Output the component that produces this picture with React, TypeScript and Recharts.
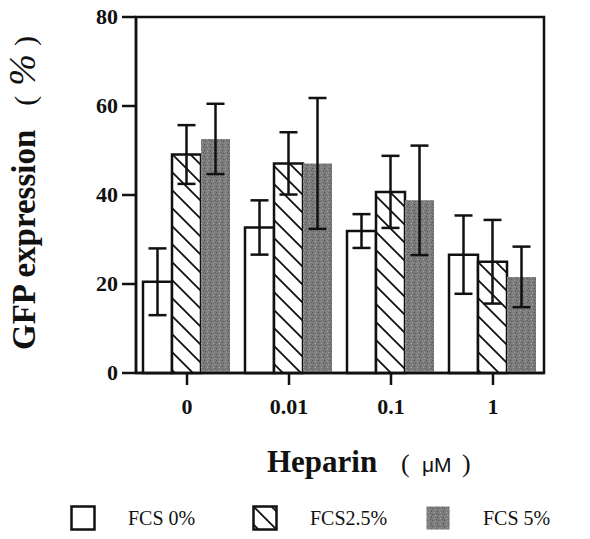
import React from 'react';
import { BarChart, Bar, XAxis, YAxis, ErrorBar, Legend, ReferenceArea } from 'recharts';

const doses = ['0', '0.01', '0.1', '1'];
const fcs0 = [20.5, 32.7, 31.9, 26.6];
const fcs0Err = [7.5, 6.1, 3.8, 8.8];
const fcs25 = [49.1, 47.1, 40.7, 25.0];
const fcs25Err = [6.6, 7.0, 8.1, 9.4];
const fcs5 = [52.6, 47.1, 38.8, 21.6];
const fcs5Err = [7.9, 14.7, 12.3, 6.8];
const yTicks = [0, 20, 40, 60, 80];

const data = doses.map((dose, i) => ({
  dose,
  fcs0: fcs0[i],
  fcs0Err: fcs0Err[i],
  fcs25: fcs25[i],
  fcs25Err: fcs25Err[i],
  fcs5: fcs5[i],
  fcs5Err: fcs5Err[i],
}));

const serif = 'Liberation Serif';
const ink = '#111';

const legendItems = [
  { label: 'FCS 0%', fill: '#ffffff', left: 70 },
  { label: 'FCS2.5%', fill: 'url(#hatch)', left: 252 },
  { label: 'FCS 5%', fill: 'url(#grain)', left: 425 },
];

// Legend sits in its own absolute box so it doesn't shrink the plot
const renderLegend = () => (
  <div style={{ position: 'relative', width: 590, height: 30 }}>
    {legendItems.map((item) => (
      <div key={item.label} style={{ position: 'absolute', left: item.left, top: 0, display: 'flex', alignItems: 'center' }}>
        <svg width={26} height={26}>
          <rect x={1.5} y={1.5} width={23} height={23} fill={item.fill} stroke={item.fill === 'url(#grain)' ? 'none' : ink} strokeWidth={2.5} />
        </svg>
        <span style={{ marginLeft: 32, fontFamily: serif, fontSize: 20, color: ink }}>{item.label}</span>
      </div>
    ))}
  </div>
);

const XTick = (props: any) => {
  const { x, y, payload } = props;
  return (
    <text x={x} y={y + 15} textAnchor="middle" fontFamily={serif} fontWeight="bold" fontSize={22} fill={ink}>
      {payload.value}
    </text>
  );
};

const YTick = (props: any) => {
  const { x, y, payload } = props;
  return (
    <text x={x} y={y + 7} textAnchor="end" fontFamily={serif} fontWeight="bold" fontSize={22} fill={ink}>
      {payload.value}
    </text>
  );
};

const YTitle = () => (
  <text transform="translate(35 350) rotate(-90)" fontFamily={serif} fill={ink}>
    <tspan fontWeight="bold" fontSize={33}>GFP expression</tspan>
    <tspan fontSize={30} dx={24}>(</tspan>
    <tspan fontSize={38} fontStyle="italic" dx={10}>%</tspan>
    <tspan fontSize={30} dx={8}>)</tspan>
  </text>
);

const XTitle = () => (
  <g fill={ink}>
    <text x={267} y={472} fontFamily={serif} fontWeight="bold" fontSize={31}>Heparin</text>
    <text x={401} y={472} fontFamily={serif} fontSize={26}>(</text>
    <text x={422} y={472} fontFamily="Liberation Sans" fontSize={21}>μM</text>
    <text x={462} y={472} fontFamily={serif} fontSize={26}>)</text>
  </g>
);

const App: React.FC = () => {
  return (
    <div style={{ position: 'absolute', left: 0, top: 0, background: '#fff' }}>
      <BarChart
        width={590}
        height={539}
        data={data}
        margin={{ top: 17, right: 46, left: 76, bottom: 106 }}
        barCategoryGap={7}
        barGap={0}
      >
        <defs>
          <pattern id="hatch" patternUnits="userSpaceOnUse" width={18} height={18}>
            <rect width={18} height={18} fill="#fff" />
            <path d="M0,0 L18,18 M-5,13 L5,23 M13,-5 L23,5" stroke={ink} strokeWidth={1.8} />
          </pattern>
          <pattern id="grain" patternUnits="userSpaceOnUse" width={6} height={6}>
            <rect width={6} height={6} fill="#7c7c7c" />
            <rect x={0} y={0} width={1} height={1} fill="#4c4c4c" />
            <rect x={3} y={1} width={1} height={1} fill="#a8a8a8" />
            <rect x={1} y={3} width={1} height={1} fill="#585858" />
            <rect x={4} y={4} width={1} height={1} fill="#9c9c9c" />
            <rect x={5} y={2} width={1} height={1} fill="#5e5e5e" />
            <rect x={2} y={5} width={1} height={1} fill="#929292" />
          </pattern>
        </defs>
        <XAxis
          dataKey="dose"
          axisLine={{ stroke: ink, strokeWidth: 2.5 }}
          tickLine={{ stroke: ink, strokeWidth: 2.5 }}
          tickSize={12}
          tickMargin={14}
          tick={<XTick />}
          height={60}
        />
        <YAxis
          domain={[0, 80]}
          ticks={yTicks}
          axisLine={{ stroke: ink, strokeWidth: 2.5 }}
          tickLine={{ stroke: ink, strokeWidth: 2.5 }}
          tickSize={14}
          tickMargin={4}
          tick={<YTick />}
          width={60}
        />
        {/* box around the plot */}
        <ReferenceArea x1="0" x2="1" y1={0} y2={80} fill="none" stroke={ink} strokeWidth={2.5} ifOverflow="visible" />
        <Legend
          layout="vertical"
          align="center"
          verticalAlign="middle"
          content={renderLegend}
          wrapperStyle={{ position: 'absolute', left: 0, top: 505, width: 590 }}
        />
        <Bar dataKey="fcs0" fill="#fff" stroke={ink} strokeWidth={2.5} isAnimationActive={false}>
          <ErrorBar dataKey="fcs0Err" width={9} stroke={ink} strokeWidth={2.5} />
        </Bar>
        <Bar dataKey="fcs25" fill="url(#hatch)" stroke={ink} strokeWidth={2.5} isAnimationActive={false}>
          <ErrorBar dataKey="fcs25Err" width={9} stroke={ink} strokeWidth={2.5} />
        </Bar>
        <Bar dataKey="fcs5" fill="url(#grain)" isAnimationActive={false}>
          <ErrorBar dataKey="fcs5Err" width={9} stroke={ink} strokeWidth={2.5} />
        </Bar>
        <YTitle />
        <XTitle />
      </BarChart>
    </div>
  );
};

export default App;
